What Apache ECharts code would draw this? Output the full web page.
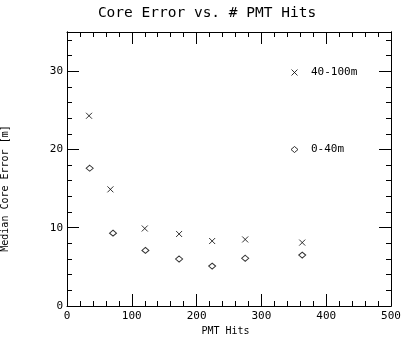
<!DOCTYPE html>
<html>
<head>
<meta charset="utf-8">
<script src="https://cdn.jsdelivr.net/npm/echarts@6/dist/echarts.min.js"></script>
<style>
  html, body { margin: 0; padding: 0; background: #fff; }
  #chart { width: 414px; height: 343px; }
</style>
</head>
<body>
<div id="chart"></div>
<script>
// Median core reconstruction error against number of PMT hits, two core-distance bands
const pmtHitsFar = [34, 67, 120, 173, 224, 275, 363];
const errorFar = [24.3, 14.9, 9.9, 9.2, 8.3, 8.5, 8.1];
const pmtHitsNear = [35, 71, 121, 173, 224, 275, 363];
const errorNear = [17.6, 9.3, 7.1, 6.0, 5.1, 6.1, 6.5];
const seriesNames = ['40-100m', '0-40m'];

const FONT = '"DejaVu Sans Mono", monospace';
const INK = '#000';

function pairs(xs, ys) {
  return xs.map((x, i) => [x, ys[i]]);
}

const crossPath = 'path://M0,0L10,10M10,0L0,10';

const baseX = {
  type: 'value', min: 0, max: 500, interval: 100,
  axisLine: { show: true, onZero: false, lineStyle: { color: INK, width: 1 } },
  axisTick: { show: true, inside: true, length: 12, lineStyle: { color: INK } },
  minorTick: { show: true, splitNumber: 5, length: 5, lineStyle: { color: INK } },
  splitLine: { show: false },
  minorSplitLine: { show: false }
};

function yAxisDef(position, interval, tickLen, withLabels) {
  return {
    type: 'value', min: 0, max: 35, interval: interval, position: position,
    axisLine: { show: true, onZero: false, lineStyle: { color: INK, width: 1 } },
    axisTick: { show: true, inside: true, length: tickLen, lineStyle: { color: INK } },
    axisLabel: withLabels ? {
      show: true, color: INK, fontFamily: FONT, fontSize: 11, margin: 4, showMaxLabel: false
    } : { show: false },
    splitLine: { show: false }
  };
}

const chart = echarts.init(document.getElementById('chart'), null, { renderer: 'canvas' });

chart.setOption({
  backgroundColor: '#fff',
  animation: false,
  title: {
    text: 'Core Error vs. # PMT Hits',
    left: 'center',
    top: 1,
    textStyle: { fontFamily: FONT, fontWeight: 'normal', fontSize: 14.5, color: INK }
  },
  grid: {
    left: 67, right: 23, top: 32, bottom: 37,
    containLabel: false, outerBoundsMode: 'none'
  },
  legend: {
    orient: 'vertical',
    left: 289, top: 67,
    padding: 0,
    itemWidth: 7, itemHeight: 6,
    itemGap: 66,
    itemStyle: { borderWidth: 1 },
    textStyle: { fontFamily: FONT, fontSize: 11, color: INK, padding: [0, 0, 0, 8] },
    data: seriesNames
  },
  xAxis: [
    Object.assign({}, baseX, {
      position: 'bottom',
      name: 'PMT Hits', nameLocation: 'middle', nameGap: 19,
      nameTextStyle: { fontFamily: FONT, fontSize: 10, color: INK, padding: [0, 7, 0, 0] },
      axisLabel: { show: true, color: INK, fontFamily: FONT, fontSize: 11, margin: 5 }
    }),
    Object.assign({}, baseX, { position: 'top', axisLabel: { show: false } })
  ],
  yAxis: [
    Object.assign(yAxisDef('left', 10, 12, true), {
      name: 'Median Core Error [m]', nameLocation: 'middle', nameGap: 57,
      nameTextStyle: { fontFamily: FONT, fontSize: 10, color: INK, padding: [0, 39, 0, 0] }
    }),
    yAxisDef('left', 2, 5, false),
    yAxisDef('right', 10, 12, false),
    yAxisDef('right', 2, 5, false)
  ],
  series: [
    {
      name: seriesNames[0], type: 'scatter', xAxisIndex: 0, yAxisIndex: 0,
      symbol: crossPath, symbolSize: 6,
      itemStyle: { color: 'none', borderColor: INK, borderWidth: 1 },
      data: pairs(pmtHitsFar, errorFar)
    },
    {
      name: seriesNames[1], type: 'scatter', xAxisIndex: 0, yAxisIndex: 0,
      symbol: 'diamond', symbolSize: [7, 6],
      itemStyle: { color: '#fff', borderColor: INK, borderWidth: 1 },
      data: pairs(pmtHitsNear, errorNear)
    }
  ]
});
</script>
</body>
</html>
